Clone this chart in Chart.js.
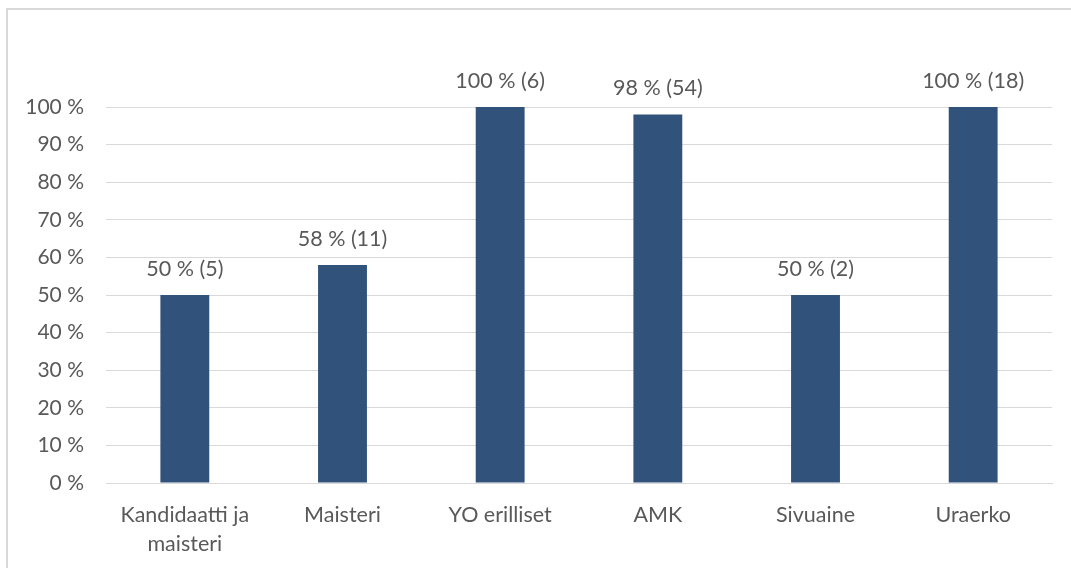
<!DOCTYPE html>
<html>
<head>
<meta charset="utf-8">
<script src="https://cdn.jsdelivr.net/npm/chart.js@4/dist/chart.umd.min.js"></script>
<style>
  html, body { margin: 0; padding: 0; background: #fff; overflow: hidden; }
  #wrap { position: relative; width: 1071px; height: 568px; }
  #frame { position: absolute; left: 6px; top: 8px; width: 1080px; height: 600px;
           border-left: 2px solid #d9d9d9; border-top: 2px solid #d9d9d9; box-sizing: border-box; }
  canvas { position: absolute; left: 0; top: 0; }
</style>
</head>
<body>
<div id="wrap">
  <div id="frame"></div>
  <canvas id="c" width="1071" height="568"></canvas>
</div>
<script>
const categories = [["Kandidaatti ja", "maisteri"], "Maisteri", "YO erilliset", "AMK", "Sivuaine", "Uraerko"];
const percentages = [50, 58, 100, 98, 50, 100];
const counts = [5, 11, 6, 54, 2, 18];
const yTicks = [0, 10, 20, 30, 40, 50, 60, 70, 80, 90, 100];

const FONT = 'Lato, "Open Sans", sans-serif';
const TEXT = '#595959';

const labelPlugin = {
  id: 'barLabels',
  afterDatasetsDraw(chart) {
    const ctx = chart.ctx;
    const meta = chart.getDatasetMeta(0);
    ctx.save();
    ctx.font = '21.5px ' + FONT;
    ctx.fillStyle = TEXT;
    ctx.textAlign = 'center';
    ctx.textBaseline = 'middle';
    meta.data.forEach((bar, i) => {
      ctx.fillText(percentages[i] + ' % (' + counts[i] + ')', bar.x, bar.y - 26);
    });
    ctx.restore();
  }
};

new Chart(document.getElementById('c'), {
  type: 'bar',
  data: {
    labels: categories,
    datasets: [{
      data: percentages,
      backgroundColor: '#31527a',
      categoryPercentage: 1,
      barPercentage: 0.31
    }]
  },
  options: {
    responsive: false,
    animation: false,
    layout: { padding: { top: 107, right: 19, left: 0, bottom: 0 } },
    plugins: { legend: { display: false }, tooltip: { enabled: false } },
    scales: {
      x: {
        grid: { display: false, drawTicks: false },
        border: { display: true, color: '#d9d9d9', width: 1 },
        ticks: { color: TEXT, font: { family: FONT, size: 21.5, lineHeight: 1.33 }, padding: 18, maxRotation: 0, autoSkip: false },
        afterFit(scale) { scale.height = 85; }
      },
      y: {
        min: 0, max: 100,
        afterBuildTicks(scale) { scale.ticks = yTicks.map(v => ({ value: v })); },
        grid: { color: '#d9d9d9', lineWidth: 1, drawTicks: false },
        border: { display: false },
        ticks: { color: TEXT, font: { family: FONT, size: 21 }, padding: 22, callback: v => v + ' %' },
        afterFit(scale) { scale.width = 106; }
      }
    }
  },
  plugins: [labelPlugin]
});
</script>
</body>
</html>
